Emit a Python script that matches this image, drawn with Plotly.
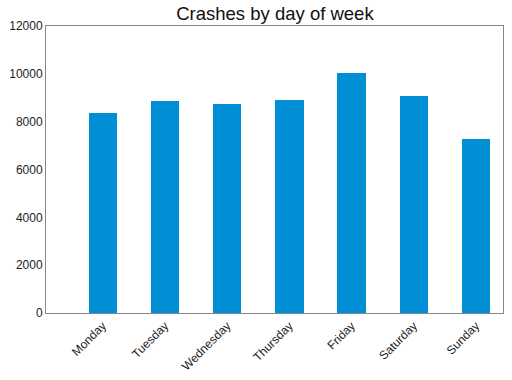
import plotly.graph_objects as go

days = ["Monday", "Tuesday", "Wednesday", "Thursday", "Friday", "Saturday", "Sunday"]
crashes = [8350, 8850, 8735, 8900, 10040, 9070, 7280]
y_ticks = [0, 2000, 4000, 6000, 8000, 10000, 12000]

fig = go.Figure(go.Bar(
    x=list(range(len(days))), y=crashes, width=0.455,
    marker=dict(color="#008fd5", line=dict(width=0)),
    hoverinfo="skip",
))
fig.update_layout(
    width=512, height=380,
    margin=dict(l=46, r=9, t=26, b=67, autoexpand=False),
    paper_bgcolor="white", plot_bgcolor="white",
    font=dict(family="Liberation Sans, Arial, sans-serif", size=12, color="#222"),
    title=dict(text="Crashes by day of week", x=0.537, xanchor="center", y=0.965, yanchor="middle",
               font=dict(size=18.5, color="#111")),
    showlegend=False,
    bargap=0,
)
fig.update_xaxes(
    range=[-0.913, 6.434], tickmode="array", tickvals=list(range(len(days))), ticktext=days,
    tickangle=-45, showgrid=False, zeroline=False, showline=True, linecolor="#888", linewidth=1,
    mirror=True, ticks="", tickfont=dict(size=12, color="#222"), automargin=False,
)
fig.update_yaxes(
    range=[0, 12000], tickmode="array", tickvals=y_ticks, ticktext=[str(v) for v in y_ticks],
    showgrid=False, zeroline=False, showline=True, linecolor="#888", linewidth=1, mirror=True,
    ticks="", tickfont=dict(size=12, color="#222"), automargin=False,
)
fig.write_html("out.html", config={"displayModeBar": False},
               post_script="document.body.style.margin='0';document.body.style.overflow='hidden';")
